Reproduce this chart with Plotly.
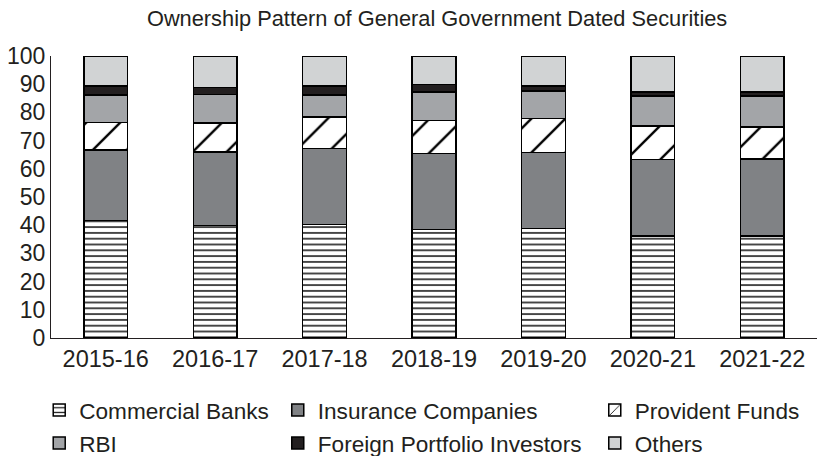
import plotly.graph_objects as go

# Ownership shares (per cent) of general government dated securities
years = ["2015-16", "2016-17", "2017-18", "2018-19", "2019-20", "2020-21", "2021-22"]
commercial_banks = [41.7, 39.9, 40.3, 38.4, 38.8, 36.2, 36.2]
insurance_companies = [24.9, 26.1, 26.9, 27.0, 26.9, 27.1, 27.2]
provident_funds = [9.8, 10.2, 11.2, 11.8, 12.1, 11.8, 11.4]
rbi = [9.7, 10.1, 7.7, 10.0, 9.8, 10.7, 11.0]
foreign_portfolio_investors = [3.3, 2.5, 3.3, 2.7, 1.8, 1.4, 1.4]
others = [10.6, 11.2, 10.6, 10.1, 10.6, 12.8, 12.8]
y_ticks = list(range(0, 101, 10))

FONT = "Liberation Sans, Arial, sans-serif"
OUTLINE = dict(color="#000000", width=1.5)

series = [
    ("Commercial Banks", commercial_banks, dict(color="#ffffff",
        pattern=dict(shape="-", fgcolor="#1a1a1a", bgcolor="#ffffff",
                     fgopacity=1, size=5.8, solidity=0.27))),
    ("Insurance Companies", insurance_companies, dict(color="#808285")),
    ("Provident Funds", provident_funds, dict(color="#ffffff",
        pattern=dict(shape="/", fgcolor="#000000", bgcolor="#ffffff",
                     fgopacity=1, size=24, solidity=0.1))),
    ("RBI", rbi, dict(color="#a3a5a8")),
    ("Foreign Portfolio Investors", foreign_portfolio_investors, dict(color="#231f20")),
    ("Others", others, dict(color="#d1d3d4")),
]

# each legend entry gets its own legend box so the 3x2 grid can be placed freely
legend_pos = [
    (0.0480, 0.100), (0.340, 0.100), (0.728, 0.100),
    (0.0480, 0.028), (0.340, 0.028), (0.728, 0.028),
]

fig = go.Figure()
layout_legends = {}
for i, (name, vals, marker) in enumerate(series):
    key = "legend" if i == 0 else f"legend{i + 1}"
    fig.add_trace(go.Bar(
        x=years, y=vals, name=name, width=0.4,
        marker=dict(line=OUTLINE, **marker),
        legend=key,
    ))
    lx, ly = legend_pos[i]
    layout_legends[key] = dict(
        x=lx, y=ly, xref="container", yref="container",
        xanchor="left", yanchor="middle",
        bgcolor="rgba(0,0,0,0)", borderwidth=0,
        font=dict(family=FONT, size=22.6, color="#231f20"),
    )

fig.update_layout(
    barmode="stack",
    width=817, height=456,
    margin=dict(l=51, r=0, t=56, b=118, autoexpand=False),
    paper_bgcolor="#ffffff", plot_bgcolor="#ffffff",
    showlegend=True,
    title=dict(
        text="Ownership Pattern of General Government Dated Securities",
        x=0.535, xanchor="center", y=0.96, yanchor="middle",
        font=dict(family=FONT, size=21.8, color="#231f20"),
    ),
    xaxis=dict(
        type="category", categoryorder="array", categoryarray=years,
        showline=True, linecolor="#231f20", linewidth=1.3,
        showgrid=False, ticks="", range=[-0.5, 6.5],
        tickfont=dict(family=FONT, size=23.5, color="#231f20"),
    ),
    yaxis=dict(
        range=[0, 100], tickvals=y_ticks,
        showline=True, linecolor="#231f20", linewidth=1.3,
        showgrid=False, zeroline=False, ticks="",
        tickfont=dict(family=FONT, size=23, color="#231f20"),
    ),
    **layout_legends,
)

fig.write_html("out.html")
